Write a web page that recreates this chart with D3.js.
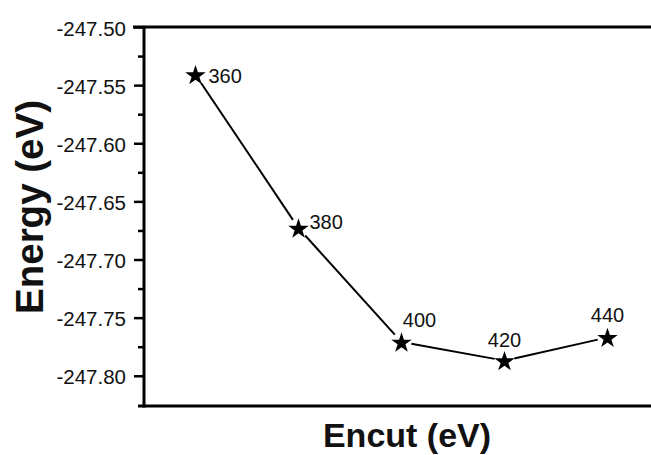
<!DOCTYPE html>
<html><head><meta charset="utf-8">
<script src="https://cdn.jsdelivr.net/npm/d3@7"></script>
<style>body{margin:0;background:#fff;}svg{display:block;font-family:Arial,"Liberation Sans",sans-serif;}</style>
</head><body><svg id="c" width="651" height="455"></svg>
<script>
const encut = [360, 380, 400, 420, 440];
const energy = [-247.541, -247.673, -247.771, -247.787, -247.767];
const pointLabels = ["360", "380", "400", "420", "440"];
const yTicks = [-247.50, -247.55, -247.60, -247.65, -247.70, -247.75, -247.80];
const yMinorTicks = [-247.525, -247.575, -247.625, -247.675, -247.725, -247.775];
const xTitle = "Encut (eV)";
const yTitle = "Energy (eV)";

const svg = d3.select("#c");
const L = 144, R = 659, T = 27, B = 406;
const x = d3.scaleLinear().domain([350, 450]).range([L, R]);
const y = d3.scaleLinear().domain([-247.826, -247.50]).range([B, T]);

// frame lines
svg.append("line").attr("x1", L - 11).attr("x2", 700).attr("y1", T).attr("y2", T).attr("stroke", "#000").attr("stroke-width", 3);
svg.append("line").attr("x1", L - 6).attr("x2", 700).attr("y1", B).attr("y2", B).attr("stroke", "#000").attr("stroke-width", 3);

const fmt = d => d.toFixed(2);
const yAxis = d3.axisLeft(y).tickValues(yTicks).tickFormat(fmt).tickSize(10).tickPadding(8);
const ga = svg.append("g").attr("transform", `translate(${L},0)`).call(yAxis);
ga.select(".domain").attr("stroke-width", 3).attr("d", `M0,${T}V${B+1.5}`);
ga.selectAll(".tick line").attr("stroke-width", 2.5);
ga.selectAll(".tick text").attr("font-size", 20.5).attr("dy", "0.4em").attr("fill", "#111").attr("font-family", "Arial, 'Liberation Sans', sans-serif");

const gm = svg.append("g").attr("transform", `translate(${L},0)`).call(d3.axisLeft(y).tickValues(yMinorTicks).tickSize(6).tickFormat(""));
gm.select(".domain").remove();
gm.selectAll(".tick line").attr("stroke-width", 2.5);

// line segments with gaps near symbols
const pts = encut.map((d, i) => [x(d), y(energy[i])]);
const gap = 10;
for (let i = 0; i < pts.length - 1; i++) {
  const [x1, y1] = pts[i], [x2, y2] = pts[i + 1];
  const dx = x2 - x1, dy = y2 - y1, len = Math.hypot(dx, dy);
  const ux = dx / len, uy = dy / len;
  svg.append("line")
    .attr("x1", x1 + ux * gap).attr("y1", y1 + uy * gap)
    .attr("x2", x2 - ux * gap).attr("y2", y2 - uy * gap)
    .attr("stroke", "#000").attr("stroke-width", 2);
}

svg.selectAll("path.star").data(encut).enter().append("path")
  .attr("class", "star")
  .attr("d", d3.symbol().type(d3.symbolStar).size(130))
  .attr("transform", (d, i) => `translate(${x(d)},${y(energy[i]) + 1})`)
  .attr("fill", "#000");

const labelOffsets = [[13, 8, "start"], [11, 1, "start"], [18, -15, "middle"], [0, -14, "middle"], [0, -15, "middle"]];
svg.selectAll("text.pl").data(encut).enter().append("text")
  .attr("class", "pl")
  .attr("x", (d, i) => x(d) + labelOffsets[i][0])
  .attr("y", (d, i) => y(energy[i]) + labelOffsets[i][1])
  .attr("text-anchor", (d, i) => labelOffsets[i][2])
  .attr("font-size", 20).attr("fill", "#111")
  .text((d, i) => pointLabels[i]);

svg.append("text").attr("x", 407).attr("y", 447).attr("text-anchor", "middle")
  .attr("font-size", 34).attr("font-weight", "bold").attr("fill", "#111").text(xTitle);
svg.append("text").attr("transform", "translate(43,207) rotate(-90)").attr("text-anchor", "middle")
  .attr("font-size", 38.5).attr("font-weight", "bold").attr("fill", "#111").text(yTitle);
</script></body></html>
